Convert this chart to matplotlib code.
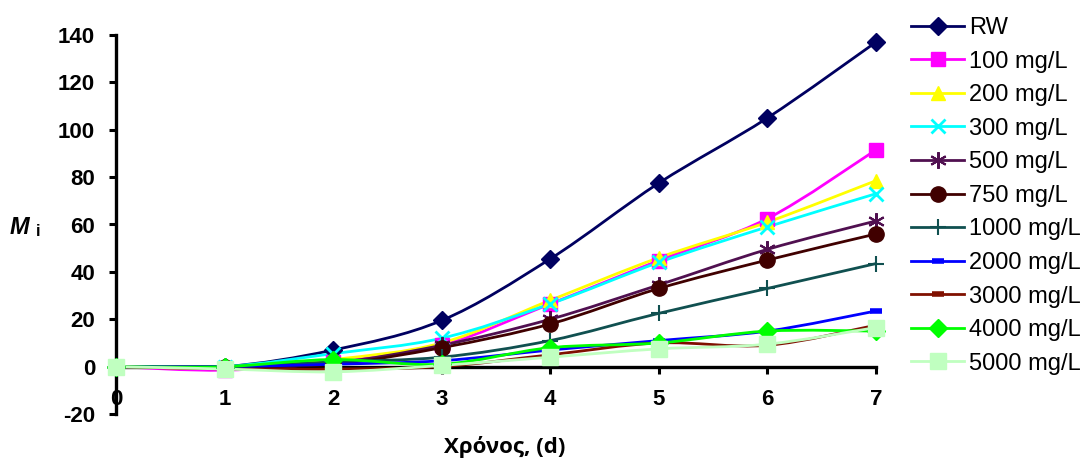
import numpy as np
import matplotlib
matplotlib.use("Agg")
import matplotlib.pyplot as plt
from matplotlib.path import Path
from matplotlib.patches import PathPatch
from matplotlib.lines import Line2D

plt.rcParams["axes.unicode_minus"] = False

# data
days = [0, 1, 2, 3, 4, 5, 6, 7]
labels = ["RW", "100 mg/L", "200 mg/L", "300 mg/L", "500 mg/L", "750 mg/L",
          "1000 mg/L", "2000 mg/L", "3000 mg/L", "4000 mg/L", "5000 mg/L"]
rw = [0, 0, 7, 19.5, 45.5, 77.5, 105, 137]
c100 = [0, -1.5, 2, 9, 26.5, 44.8, 62.5, 91.5]
c200 = [0, -0.5, 3, 10, 28, 46, 61, 78.5]
c300 = [0, 0, 5.5, 12, 26.5, 44, 59, 73]
c500 = [0, -0.5, 1.5, 9, 20, 34.5, 49.5, 61.5]
c750 = [0, 0, 1, 8, 18, 33, 45, 56]
c1000 = [0, 0, 2, 4, 11, 22.5, 33, 43.5]
c2000 = [0, 0, 1, 2.5, 7, 11, 15, 23.5]
c3000 = [0, -1, -1, 0, 5, 10, 9, 17.5]
c4000 = [0, 0, 3, 1, 8, 10, 15, 15]
c5000 = [0, -1, -2.2, 0.5, 4, 7.5, 9.5, 16.5]
series = [rw, c100, c200, c300, c500, c750, c1000, c2000, c3000, c4000, c5000]

styles = [
    dict(color="#000060", marker="D", ms=9),
    dict(color="#ff00ff", marker="s", ms=10),
    dict(color="#ffff00", marker="^", ms=10),
    dict(color="#00ffff", marker="x", ms=10, mew=2),
    dict(color="#501050", marker=(6, 2, 0), ms=12, mew=1.5),
    dict(color="#400000", marker="o", ms=11),
    dict(color="#105050", marker="+", ms=12, mew=1.5),
    dict(color="#0000ff", marker="_", ms=8, mew=4),
    dict(color="#801000", marker="_", ms=8, mew=4),
    dict(color="#00ff00", marker="D", ms=9),
    dict(color="#c0ffc0", marker="s", ms=12),
]


def smooth_path(x, y):
    # Bezier path through the data points (Excel-style smoothed line)
    pts = np.column_stack([x, y]).astype(float)
    n = len(pts)
    verts = [pts[0]]
    codes = [Path.MOVETO]
    for i in range(n - 1):
        p0 = pts[max(i - 1, 0)]
        p1 = pts[i]
        p2 = pts[i + 1]
        p3 = pts[min(i + 2, n - 1)]
        verts += [p1 + (p2 - p0) / 6, p2 - (p3 - p1) / 6, p2]
        codes += [Path.CURVE4] * 3
    return Path(verts, codes)


fig = plt.figure(figsize=(10.86, 4.61), dpi=100)
ax = fig.add_axes([116 / 1086, 1 - 414 / 461, 760 / 1086, 379 / 461])

handles = []
for vals, lab, st in zip(series, labels, styles):
    ax.add_patch(PathPatch(smooth_path(days, vals), facecolor="none",
                           edgecolor=st["color"], lw=2, zorder=2))
    ax.plot(days, vals, linestyle="none", marker=st["marker"], ms=st["ms"],
            mfc=st["color"], mec=st["color"], mew=st.get("mew", 1), zorder=3,
            clip_on=False)
    handles.append(Line2D([], [], color=st["color"], lw=2, marker=st["marker"],
                          ms=st["ms"], mfc=st["color"], mec=st["color"],
                          mew=st.get("mew", 1)))

ax.set_xlim(0, 7)
ax.set_ylim(-20, 140)
ax.set_xticks(days)
ax.set_yticks(range(-20, 141, 20))

for s in ["top", "right"]:
    ax.spines[s].set_visible(False)
ax.spines["bottom"].set_position(("data", 0))
ax.spines["bottom"].set_linewidth(2.4)
ax.spines["left"].set_linewidth(2.4)
ax.spines["bottom"].set_zorder(1)

ax.tick_params(axis="both", direction="out", length=5, width=2.2)
ax.tick_params(axis="x", pad=11)
ax.tick_params(axis="y", pad=10)
for t in ax.get_xticklabels() + ax.get_yticklabels():
    t.set_fontfamily("Liberation Sans")
    t.set_fontweight("bold")
    t.set_fontsize(16)

fig.text(505 / 1086, 1 - 447 / 461, "Χρόνος, (d)", ha="center", va="center",
         family="Open Sans", weight="bold", fontsize=16)
fig.text(10 / 1086, 1 - 227 / 461, "M", ha="left", va="center",
         family="Liberation Sans", weight="bold", style="italic", fontsize=17)
fig.text(36 / 1086, 1 - 231 / 461, "i", ha="left", va="center",
         family="Liberation Sans", weight="bold", fontsize=12)

leg = fig.legend(handles, labels, loc="upper left",
                 bbox_to_anchor=(911 / 1086, 1 - 17 / 461), frameon=False,
                 prop=dict(family="Liberation Sans", size=17),
                 handlelength=2.25, handletextpad=0.22, labelspacing=0.49,
                 borderaxespad=0, borderpad=0)

fig.savefig("out.png", dpi=100)
